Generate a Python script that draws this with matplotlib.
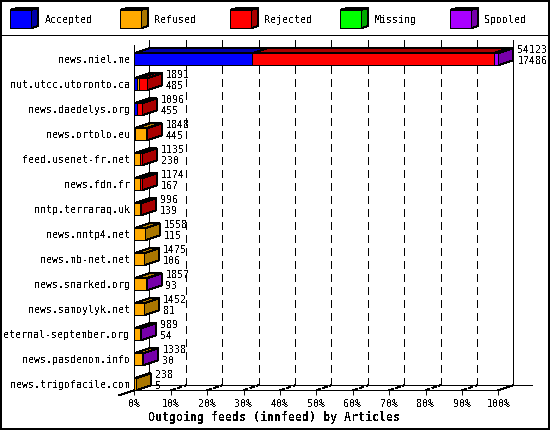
import numpy as np
import matplotlib
matplotlib.use("Agg")
import matplotlib.pyplot as plt
from matplotlib.patches import Polygon, Rectangle
from matplotlib.lines import Line2D

plt.rcParams["font.family"] = ["DejaVu Sans Mono"]
plt.rcParams["font.size"] = 7.2
plt.rcParams["text.antialiased"] = False
plt.rcParams["lines.antialiased"] = False
plt.rcParams["patch.antialiased"] = False

# donnees (articles par feed)
feeds = ["news.niel.me", "nut.utcc.utoronto.ca", "news.daedelys.org", "news.ortolo.eu",
         "feed.usenet-fr.net", "news.fdn.fr", "nntp.terraraq.uk", "news.nntp4.net",
         "news.mb-net.net", "news.snarked.org", "news.samoylyk.net",
         "eternal-september.org", "news.pasdenom.info", "news.trigofacile.com"]
accepted = [17500, 400, 390, 130, 0, 0, 0, 0, 0, 0, 0, 0, 0, 0]
refused = [0, 240, 0, 1560, 850, 900, 800, 1558, 1475, 1790, 1452, 940, 1290, 238]
rejected = [35910, 1251, 706, 158, 285, 274, 196, 0, 0, 0, 0, 0, 0, 0]
missing = [0, 0, 0, 0, 0, 0, 0, 0, 0, 0, 0, 0, 0, 0]
spooled = [713, 0, 0, 0, 0, 0, 0, 0, 0, 67, 0, 49, 48, 0]
articles = [54123, 1891, 1096, 1848, 1135, 1174, 996, 1558, 1475, 1857, 1452, 989, 1338, 238]
sizes = [17486, 485, 455, 445, 230, 167, 139, 115, 106, 93, 81, 54, 30, 5]
pct_ticks = [0, 10, 20, 30, 40, 50, 60, 70, 80, 90, 100]

names = ["Accepted", "Refused", "Rejected", "Missing", "Spooled"]
front_cols = ["#0000ff", "#ffaa00", "#ff0000", "#00ff00", "#aa00ff"]
dark_cols = ["#0000aa", "#aa7700", "#aa0000", "#00aa00", "#7700aa"]
series = [accepted, refused, rejected, missing, spooled]

LW = 0.7
W, H = 550, 430
fig = plt.figure(figsize=(W / 100, H / 100), dpi=100)
fig.patch.set_facecolor("white")

# axe principal : le plan avant du graphe
x0, x1, y_top, y_bot = 134.3, 498.3, 45.3, 390.3
ax = fig.add_axes([x0 / W, 1 - y_bot / H, (x1 - x0) / W, (y_bot - y_top) / H])
xmax = max(articles)
px_x = xmax / (x1 - x0)
px_y = 1 / 25
ax.set_xlim(0, xmax)
ax.set_ylim((y_bot - 59.3) * px_y, (y_top - 59.3) * px_y)
ax.patch.set_alpha(0)
DX = 15 * px_x
DY = 5 * px_y
BAR = 12 * px_y

for s in ["top", "right"]:
    ax.spines[s].set_visible(False)
for s in ["left", "bottom"]:
    ax.spines[s].set_linewidth(LW)
ax.spines["left"].set_zorder(6)

ax.set_yticks(range(len(feeds)), feeds)
ax.tick_params(axis="y", length=0, pad=3.2)
ax.set_xticks([xmax * p / 100 for p in pct_ticks], [f"{p}%" for p in pct_ticks])
ax.tick_params(axis="x", length=3.6, width=LW, pad=3)
ax.set_xlabel("Outgoing feeds (innfeed) by Articles", fontweight="bold", fontsize=8.4)
ax.xaxis.set_label_coords((274 - x0) / (x1 - x0), -(411 - y_bot) / (y_bot - y_top))

# plan arriere : grille en tirets, bords
yb = ax.get_ylim()[0]
yt = ax.get_ylim()[1]
for p in pct_ticks[1:-1]:
    xp = xmax * p / 100
    ax.plot([xp + DX, xp + DX], [yt - DY, yb - DY], color="black", lw=LW,
            dashes=(7.5, 5.5), clip_on=False, zorder=1)
    ax.plot([xp, xp + DX], [yb, yb - DY], color="black", lw=LW,
            dashes=(5, 3), clip_on=False, zorder=1)
line_kw = dict(color="black", lw=LW, clip_on=False, zorder=1)
ax.plot([DX, DX], [yt - DY, yb - DY], **line_kw)
ax.plot([xmax + DX, xmax + DX], [yt - DY, yb - DY], **line_kw)
ax.plot([DX, xmax + DX + 18.5 * px_x], [yb - DY, yb - DY], **line_kw)
ax.plot([-DX, DX], [yb + DY, yb - DY], **line_kw)
ax.plot([xmax, xmax + DX], [yb, yb - DY], **line_kw)

# barres empilees en pseudo 3D
edge = dict(edgecolor="black", linewidth=LW, clip_on=False, zorder=3)
for i in range(len(feeds)):
    left = 0
    for vals, fc, dc in zip(series, front_cols, dark_cols):
        v = vals[i]
        if v == 0:
            continue
        y0, y1 = i - BAR / 2, i + BAR / 2
        r = left + v
        ax.add_patch(Polygon([(r, y0), (r + DX, y0 - DY), (r + DX, y1 - DY), (r, y1)], facecolor=dc, **edge))
        ax.add_patch(Polygon([(left, y0), (left + DX, y0 - DY), (r + DX, y0 - DY), (r, y0)], facecolor=dc, **edge))
        ax.barh(i, v, height=BAR, left=left, color=fc, edgecolor="black", linewidth=LW, zorder=3, clip_on=False)
        left = r
    ax.text(left + DX + 4 * px_x, i - 9.3 * px_y, str(articles[i]), va="center", ha="left", zorder=5, clip_on=False)
    ax.text(left + DX + 4 * px_x, i + 1.7 * px_y, str(sizes[i]), va="center", ha="left", zorder=5, clip_on=False)

# legende et cadre, en pixels de la figure
over = fig.add_axes([0, 0, 1, 1], zorder=-1)
over.set_xlim(0, W)
over.set_ylim(H, 0)
over.axis("off")
for k, (name, fc, dc) in enumerate(zip(names, front_cols, dark_cols)):
    bx = 10.3 + 110 * k
    over.add_patch(Polygon([(bx + 21, 10), (bx + 27.5, 8), (bx + 27.5, 26), (bx + 21, 28.3)], facecolor=dc, edgecolor="black", lw=LW))
    over.add_patch(Polygon([(bx, 10), (bx + 6.5, 8), (bx + 27.5, 8), (bx + 21, 10)], facecolor=dc, edgecolor="black", lw=LW))
    over.add_patch(Rectangle((bx, 10), 21, 18.3, facecolor=fc, edgecolor="black", lw=LW))
    over.text(bx + 34.2, 20, name, va="center", ha="left")
over.add_artist(Line2D([0, W], [35, 35], color="black", lw=LW))
over.add_patch(Rectangle((0, 0), W, H, fill=False, edgecolor="black", lw=1.5, clip_on=False))

fig.savefig("out.png", dpi=100)
